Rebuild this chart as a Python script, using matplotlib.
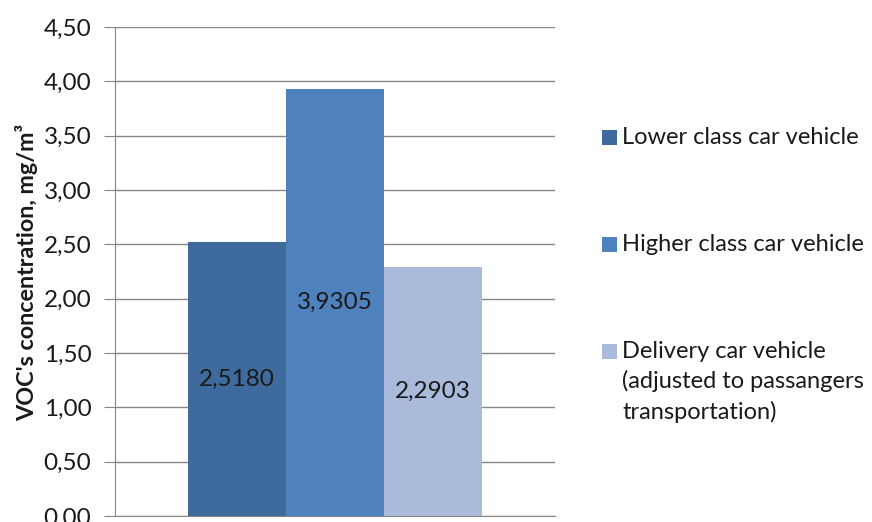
import matplotlib.pyplot as plt
from matplotlib.patches import Rectangle

plt.rcParams['font.family'] = ['Lato', 'DejaVu Sans']

labels = ['Lower class car vehicle', 'Higher class car vehicle',
          'Delivery car vehicle\n(adjusted to passangers\ntransportation)']
values = [2.5180, 3.9305, 2.2903]
value_text = ['2,5180', '3,9305', '2,2903']
colors = ['#3F6A9E', '#4F81BD', '#A9BADB']
yticks = [0, 0.5, 1, 1.5, 2, 2.5, 3, 3.5, 4, 4.5]

fig = plt.figure(figsize=(8.72, 5.22), dpi=100, facecolor='w')
ax = fig.add_axes([115/872, 6/522, 440/872, 489/522])

pos = [-1, 0, 1]
bars = ax.bar(pos, values, width=1.0, color=colors, zorder=3)
for x, v, t in zip(pos, values, value_text):
    ax.text(x, v/2, t, ha='center', va='center', fontsize=17.5, color='#1a1a1a', zorder=4)

ax.set_xlim(-2.25, 2.25)
ax.set_ylim(0, 4.5)
ax.set_yticks(yticks)
ax.set_yticklabels([('%.2f' % t).replace('.', ',') for t in yticks], fontsize=17.5, color='#1a1a1a')
ax.set_xticks([])
ax.yaxis.grid(True, color='#878787', linewidth=1, zorder=0)
for s in ['top', 'right']:
    ax.spines[s].set_visible(False)
ax.spines['left'].set_color('#878787')
ax.spines['bottom'].set_color('#878787')
ax.tick_params(axis='y', length=8, color='#878787', pad=9)

fig.text(27/872, 1 - 272/522, "VOC's concentration, mg/m³", rotation=90,
         ha='center', va='center', fontsize=16.8, fontweight='bold', color='#1a1a1a')

# legend drawn by hand so the swatch lines up with first text line
leg_base = [144, 251, 358]
for lab, c, yy in zip(labels, colors, leg_base):
    fig.patches.append(Rectangle((602/872, 1 - (yy + 0.5)/522), 15/872, 15/522,
                                 transform=fig.transFigure, facecolor=c, edgecolor='none'))
    for i, line in enumerate(lab.split('\n')):
        fig.text(622/872, 1 - (yy + i*30.5)/522, line, ha='left', va='baseline',
                 fontsize=17, color='#1a1a1a')

plt.savefig('out.png', dpi=100)
